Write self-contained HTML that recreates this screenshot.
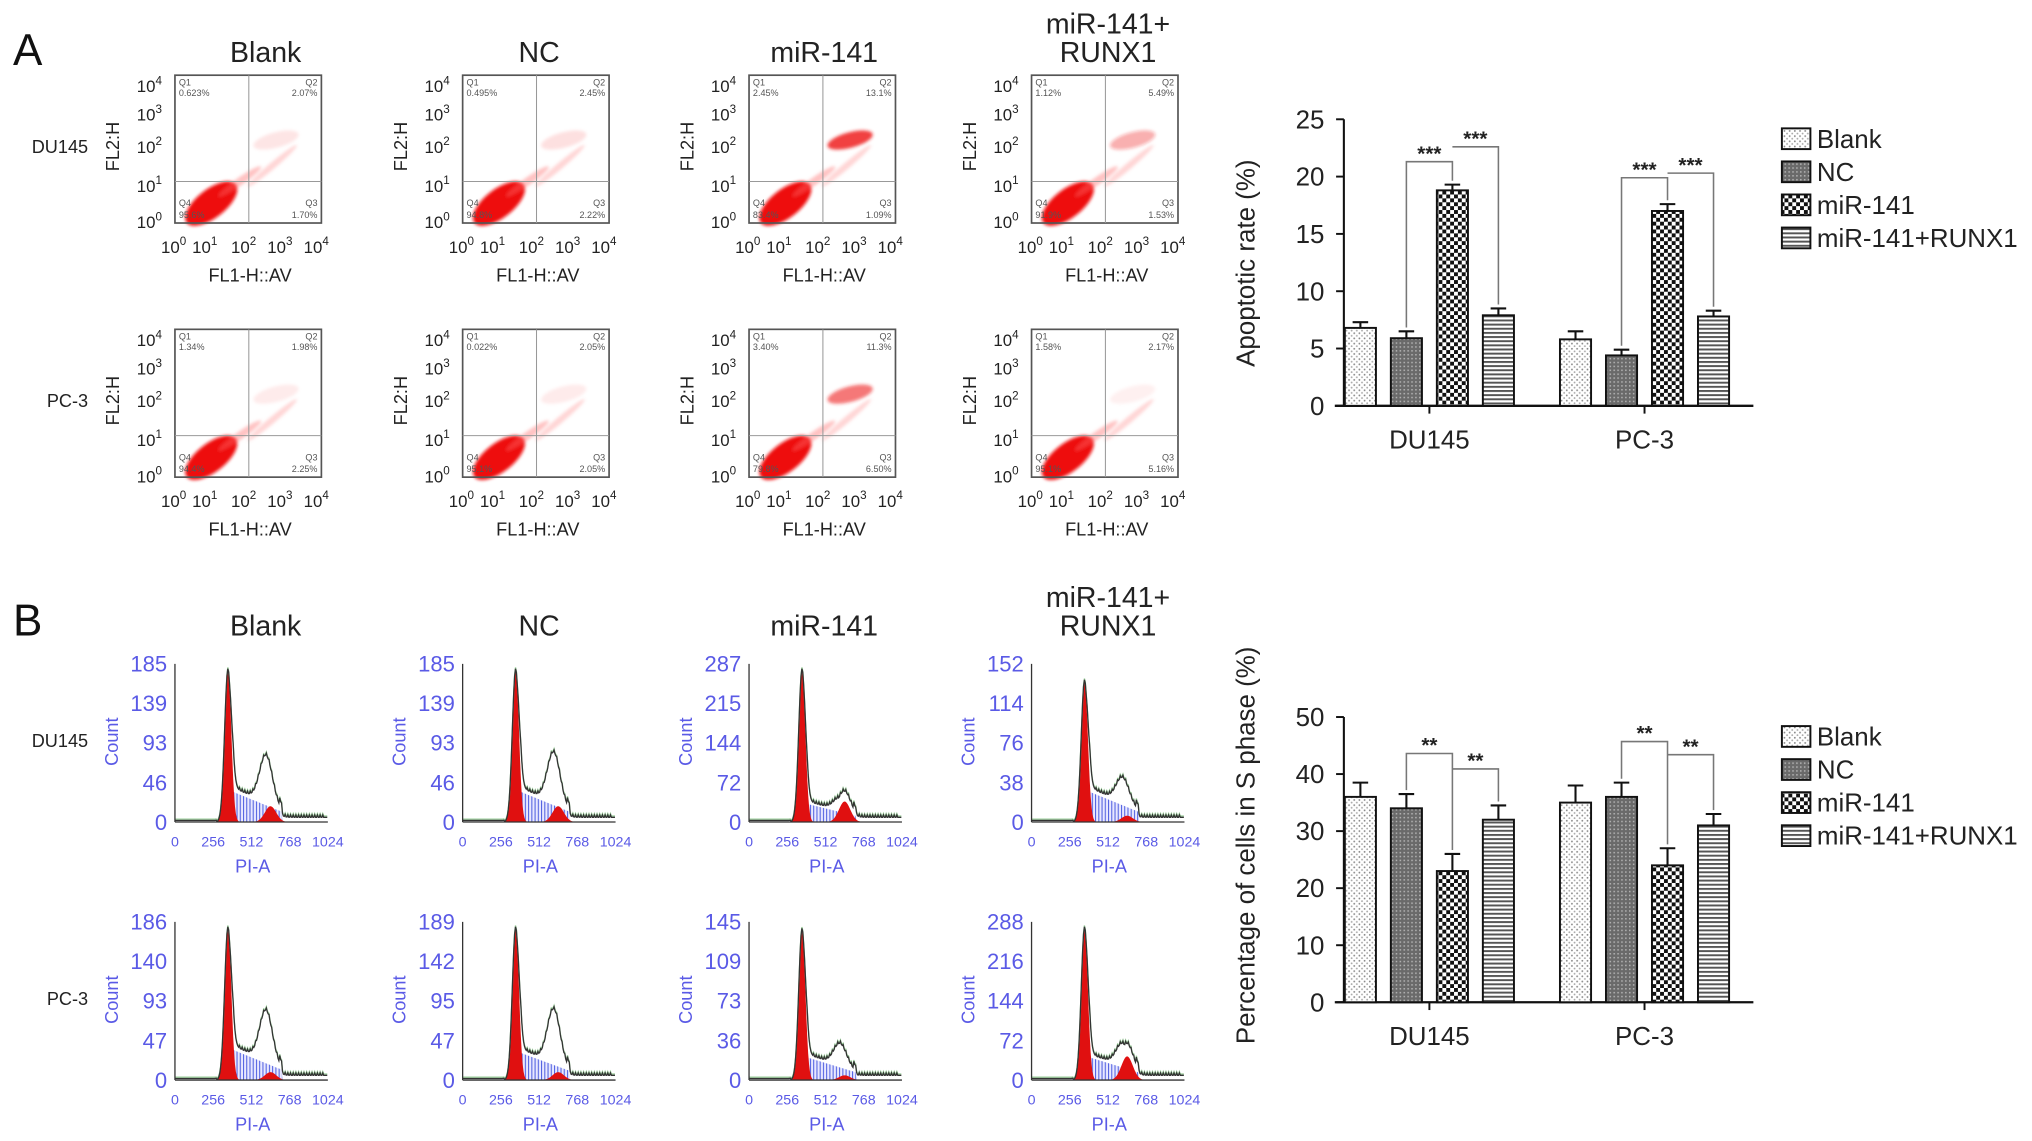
<!DOCTYPE html>
<html><head><meta charset="utf-8">
<style>
html,body{margin:0;padding:0;background:#fff;}
svg{display:block;font-family:"Liberation Sans",Arial,sans-serif;}
</style></head>
<body>
<svg id="fig" width="2032" height="1141" viewBox="0 0 1568 880" preserveAspectRatio="none" xmlns="http://www.w3.org/2000/svg">
<defs>
<pattern id="pBlank" width="4" height="4" patternUnits="userSpaceOnUse"><rect width="4" height="4" fill="#fff"/><circle cx="1" cy="1" r="0.7" fill="#888"/><circle cx="3" cy="3" r="0.7" fill="#aaa"/></pattern>
<pattern id="pNC" width="3" height="3" patternUnits="userSpaceOnUse"><rect width="3" height="3" fill="#6a6a6a"/><rect x="0" y="0" width="1.2" height="1.2" fill="#b0b0b0"/></pattern>
<pattern id="pMiR" width="6" height="6" patternUnits="userSpaceOnUse"><rect width="6" height="6" fill="#fff"/><rect width="3" height="3" fill="#111"/><rect x="3" y="3" width="3" height="3" fill="#111"/></pattern>
<pattern id="pRunx" width="4" height="3.2" patternUnits="userSpaceOnUse"><rect width="4" height="3.2" fill="#fff"/><rect y="0" width="4" height="1.5" fill="#555"/></pattern>
<pattern id="pHatch" width="2.5" height="4" patternUnits="userSpaceOnUse"><rect width="2.5" height="4" fill="#e8e8ff"/><rect width="0.8" height="4" fill="#5060e0"/></pattern>
<filter id="blur1"><feGaussianBlur stdDeviation="1.2"/></filter>
</defs>
</svg>
<script>
// ===== Bar chart data =====
const groups = ['DU145', 'PC-3'];
const seriesNames = ['Blank', 'NC', 'miR-141', 'miR-141+RUNX1'];
const apopBlank = [6.8, 5.8];
const apopNC = [5.9, 4.4];
const apopMiR = [18.8, 17.0];
const apopRunx = [7.9, 7.8];
const apopErrBlank = [0.5, 0.7];
const apopErrNC = [0.6, 0.5];
const apopErrMiR = [0.5, 0.6];
const apopErrRunx = [0.6, 0.5];
const apopTicks = [0, 5, 10, 15, 20, 25];
const apopSigLeft = [21.3, 19.9];
const apopSigRight = [22.6, 20.3];
const sBlank = [36, 35];
const sNC = [34, 36];
const sMiR = [23, 24];
const sRunx = [32, 31];
const sErrBlank = [2.5, 3];
const sErrNC = [2.5, 2.5];
const sErrMiR = [3, 3];
const sErrRunx = [2.5, 2];
const sTicks = [0, 10, 20, 30, 40, 50];
const sSigLeft = [43.6, 45.7];
const sSigRight = [40.9, 43.4];
const sigLabel = ['***', '**'];
// ===== Flow panels data =====
const colTitles = ['Blank', 'NC', 'miR-141', 'miR-141+'];
const rowLabels = ['DU145', 'PC-3'];
const q1 = [['0.623%','0.495%','2.45%','1.12%'],['1.34%','0.022%','3.40%','1.58%']];
const q2 = [['2.07%','2.45%','13.1%','5.49%'],['1.98%','2.05%','11.3%','2.17%']];
const q3 = [['1.70%','2.22%','1.09%','1.53%'],['2.25%','2.05%','6.50%','5.16%']];
const q4 = [['95.6%','94.8%','83.4%','91.9%'],['94.4%','95.1%','79.8%','95.1%']];
const upperPop = [[0.1,0.12,0.85,0.35],[0.08,0.08,0.6,0.06]];
const histTicks = [[[185,139,93,46,0],[185,139,93,46,0],[287,215,144,72,0],[152,114,76,38,0]],
                   [[186,140,93,47,0],[189,142,95,47,0],[145,109,73,36,0],[288,216,144,72,0]]];
const histG1 = [[0.97,0.97,0.97,0.9],[0.97,0.97,0.96,0.97]];
const histS = [[0.2,0.2,0.12,0.2],[0.2,0.18,0.15,0.15]];
const histG2 = [[0.1,0.1,0.13,0.04],[0.05,0.05,0.03,0.15]];
const histBump = [[0.3,0.32,0.08,0.16],[0.32,0.34,0.14,0.14]];

const NS = 'http://www.w3.org/2000/svg';
const svg = document.getElementById('fig');
function mk(tag, attrs, parent) {
  const e = document.createElementNS(NS, tag);
  for (const k in attrs) e.setAttribute(k, attrs[k]);
  (parent || svg).appendChild(e);
  return e;
}
function txt(str, x, y, size, anchor, fill, parent, weight) {
  const t = mk('text', {x: x, y: y, 'font-size': size, 'text-anchor': anchor || 'start', fill: fill || '#222'}, parent);
  if (weight) t.setAttribute('font-weight', weight);
  t.textContent = str;
  return t;
}

let t = txt('A', 10, 50, 34, 'start', '#111');


t = txt('B', 10, 490, 34, 'start', '#111');



const colX = [135, 357, 578, 796];
const colCenters = [205, 416, 636, 855];

function colTitle(i, yBase) {
  const g = mk('g', {});
  
  
  if (i === 3) {
    txt('miR-141+', colCenters[i], yBase - 22, 22, 'middle', '#222', g);
    txt('RUNX1', colCenters[i], yBase, 22, 'middle', '#222', g);
  } else {
    txt(colTitles[i], colCenters[i], yBase, 22, 'middle', '#222', g);
  }
}
for (let i = 0; i < 4; i++) { colTitle(i, 48); colTitle(i, 490); }

function supLabel(parent, base, exp, x, y, anchor) {
  const t = mk('text', {x: x, y: y, 'font-size': 13, 'text-anchor': anchor, fill: '#222'}, parent);
  const a = mk('tspan', {}, t); a.textContent = base;
  const b = mk('tspan', {dy: -6, 'font-size': 9}, t); b.textContent = exp;
  return t;
}
for (let r = 0; r < 2; r++) {
  const top = 58 + r * 196;
  const rl = txt(rowLabels[r], 68, top + 60, 14, 'end', '#222');
  
  
  for (let c = 0; c < 4; c++) {
    const x0 = colX[c];
    const g = mk('g', {});
    
    
    const bl = mk('g', {filter: 'url(#blur1)'}, g);
    mk('ellipse', {cx: x0 + 28, cy: top + 99, rx: 24, ry: 11, transform: `rotate(-38 ${x0+28} ${top+99})`, fill: '#ee1111'}, bl);
    mk('ellipse', {cx: x0 + 50, cy: top + 82, rx: 20, ry: 3, transform: `rotate(-35 ${x0+50} ${top+82})`, fill: '#ff6666', opacity: 0.4}, bl);
    const up = upperPop[r][c];
    mk('ellipse', {cx: x0 + 78, cy: top + 50, rx: 18, ry: 6, transform: `rotate(-15 ${x0+78} ${top+50})`, fill: '#ee2222', opacity: up}, bl);
    mk('ellipse', {cx: x0 + 75, cy: top + 70, rx: 25, ry: 2.5, transform: `rotate(-40 ${x0+75} ${top+70})`, fill: '#ff7777', opacity: 0.3}, bl);
    const box = mk('rect', {x: x0, y: top, width: 113, height: 114, fill: 'none', stroke: '#555', 'stroke-width': 1.3}, g);
    
    
    mk('line', {x1: x0 + 57, y1: top, x2: x0 + 57, y2: top + 114, stroke: '#999', 'stroke-width': 0.8}, g);
    mk('line', {x1: x0, y1: top + 82, x2: x0 + 113, y2: top + 82, stroke: '#999', 'stroke-width': 0.8}, g);
    txt('Q1', x0 + 3, top + 8, 7, 'start', '#555', g);
    txt(q1[r][c], x0 + 3, top + 16, 7, 'start', '#555', g);
    txt('Q2', x0 + 110, top + 8, 7, 'end', '#555', g);
    txt(q2[r][c], x0 + 110, top + 16, 7, 'end', '#555', g);
    txt('Q4', x0 + 3, top + 101, 7, 'start', '#555', g);
    txt(q4[r][c], x0 + 3, top + 110, 7, 'start', '#555', g);
    txt('Q3', x0 + 110, top + 101, 7, 'end', '#555', g);
    txt(q3[r][c], x0 + 110, top + 110, 7, 'end', '#555', g);
    const yt = [8, 30, 55, 85, 113];
    for (let k = 0; k < 5; k++) supLabel(g, '10', String(4 - k), x0 - 10, top + yt[k] + 5, 'end');
    const xt = [3, 27, 57, 85, 113];
    for (let k = 0; k < 5; k++) supLabel(g, '10', String(k), x0 + xt[k] - 4, top + 137, 'middle');
    const xl = txt('FL1-H::AV', x0 + 58, top + 159, 14, 'middle', '#222', g);
    
    
    const yl = txt('FL2:H', 0, 0, 14, 'middle', '#222', g);
    yl.setAttribute('transform', `translate(${x0 - 43},${top + 55}) rotate(-90)`);
    
    
  }
}

const blue = '#5a5ae6';
for (let r = 0; r < 2; r++) {
  const y0 = 634 + r * 199;
  const rl = txt(rowLabels[r], 68, y0 - 58, 14, 'end', '#222');
  
  
  for (let c = 0; c < 4; c++) {
    const x0 = colX[c];
    const W = 118, H = 122;
    const g = mk('g', {});
    
    
    const X = ch => x0 + ch / 1024 * W;
    const Y = v => y0 - v * H;
    const G1 = histG1[r][c], S = histS[r][c], G2 = histG2[r][c], B = histBump[r][c];
    const g1f = ch => G1 * Math.exp(-0.5 * Math.pow((ch - 355) / 22, 2));
    const sf = ch => (ch > 365 && ch < 720) ? S * (1 - (ch - 365) / 520) * Math.min(1, (ch - 365) / 25) : 0;
    const g2f = ch => G2 * Math.exp(-0.5 * Math.pow((ch - 640) / 38, 2));
    const bf = ch => B * Math.exp(-0.5 * Math.pow((ch - 610) / 42, 2));
    let pS = `M${X(365)},${y0}`, pG1 = `M${X(280)},${y0}`, pG2 = `M${X(520)},${y0}`, pO = '';
    for (let ch = 0; ch <= 1024; ch += 6) {
      if (ch >= 365 && ch <= 720) pS += ` L${X(ch)},${Y(sf(ch))}`;
      if (ch >= 280 && ch <= 430) pG1 += ` L${X(ch)},${Y(g1f(ch))}`;
      if (ch >= 520 && ch <= 760) pG2 += ` L${X(ch)},${Y(g2f(ch))}`;
      const tail = ch > 700 ? 0.03 : (ch < 280 ? 0.01 : 0);
      const jig = ((ch / 6) % 3 === 0 && ch > 420 && ch < 1000) ? 0.015 : 0;
      const v = g1f(ch) + sf(ch) * 1.15 + Math.max(g2f(ch), bf(ch)) + tail + jig;
      pO += (pO ? ' L' : 'M') + `${X(ch)},${Y(v)}`;
    }
    mk('path', {d: pS + ` L${X(720)},${y0} Z`, fill: 'url(#pHatch)'}, g);
    mk('path', {d: pG2 + ` L${X(760)},${y0} Z`, fill: '#e01010'}, g);
    mk('path', {d: pG1 + ` L${X(430)},${y0} Z`, fill: '#e01010'}, g);
    mk('path', {d: pO, fill: 'none', stroke: '#9c9', 'stroke-width': 1, transform: 'translate(0,-1)'}, g);
    mk('path', {d: pO, fill: 'none', stroke: '#333', 'stroke-width': 1}, g);
    mk('line', {x1: x0, y1: y0 - H, x2: x0, y2: y0, stroke: '#333', 'stroke-width': 1}, g);
    mk('line', {x1: x0, y1: y0, x2: x0 + W, y2: y0, stroke: '#333', 'stroke-width': 1}, g);
    const ticks = histTicks[r][c];
    for (let k = 0; k < 5; k++) txt(String(ticks[k]), x0 - 6, y0 - H + k * (H / 4) + 6, 17, 'end', blue, g);
    const xt = [0, 256, 512, 768, 1024];
    for (let k = 0; k < 5; k++) txt(String(xt[k]), X(xt[k]), y0 + 19, 11, 'middle', blue, g);
    const xl = txt('PI-A', x0 + 60, y0 + 39, 14, 'middle', blue, g);
    
    
    const yl = txt('Count', 0, 0, 14, 'middle', blue, g);
    yl.setAttribute('transform', `translate(${x0 - 44},${y0 - 62}) rotate(-90)`);
    
    
  }
}

const fills = ['url(#pBlank)', 'url(#pNC)', 'url(#pMiR)', 'url(#pRunx)'];
function barChart(cfg) {
  const {vals, errs, ticks, maxV, zeroY, topY, title, sigL, sigR, label, legendY} = cfg;
  const yS = v => zeroY - v / maxV * (zeroY - topY);
  const gx = [1103, 1269];
  const g = mk('g', {});
  
  
  const ya = mk('line', {x1: 1037, y1: topY, x2: 1037, y2: zeroY, stroke: '#111', 'stroke-width': 1.6}, g);
  
  
  for (const tv of ticks) {
    mk('line', {x1: 1031, y1: yS(tv), x2: 1037, y2: yS(tv), stroke: '#111', 'stroke-width': 1.5}, g);
    const tl = txt(String(tv), 1022, yS(tv) + 7, 20, 'end', '#222', g);
    
    
  }
  const xa = mk('line', {x1: 1030, y1: zeroY, x2: 1353, y2: zeroY, stroke: '#111', 'stroke-width': 1.8}, g);
  
  
  const yt = txt(title, 0, 0, 20, 'middle', '#222', g);
  yt.setAttribute('transform', `translate(968,${cfg.titleY}) rotate(-90)`);
  
  
  for (let gi = 0; gi < groups.length; gi++) {
    mk('line', {x1: gx[gi], y1: zeroY, x2: gx[gi], y2: zeroY + 6, stroke: '#111', 'stroke-width': 1.5}, g);
    const cl = txt(groups[gi], gx[gi], zeroY + 33, 20, 'middle', '#222', g);
    
    
    const cx = [];
    for (let s = 0; s < 4; s++) {
      const bx = gx[gi] + (s - 1.5) * 35.5;
      cx.push(bx);
      const v = vals[s][gi], e = errs[s][gi];
      const bar = mk('rect', {x: bx - 12, y: yS(v), width: 24, height: zeroY - yS(v), fill: fills[s], stroke: '#111', 'stroke-width': 1.5}, g);
      
      
      const eb = mk('path', {d: `M${bx},${yS(v)} L${bx},${yS(v + e)} M${bx - 6},${yS(v + e)} L${bx + 6},${yS(v + e)}`, stroke: '#111', 'stroke-width': 1.6, fill: 'none'}, g);
      
      
    }
    const topOf = s => yS(vals[s][gi] + errs[s][gi]) - 3;
    const lL = yS(sigL[gi]), lR = yS(sigR[gi]);
    const br1 = mk('path', {d: `M${cx[1]},${topOf(1)} L${cx[1]},${lL} L${cx[2]},${lL} L${cx[2]},${topOf(2)}`, stroke: '#777', 'stroke-width': 1.2, fill: 'none'}, g);
    
    
    const br2 = mk('path', {d: `M${cx[2]},${lR} L${cx[3]},${lR} L${cx[3]},${topOf(3)}`, stroke: '#777', 'stroke-width': 1.2, fill: 'none'}, g);
    
    
    const s1 = txt(label, (cx[1] + cx[2]) / 2, lL - 1, 16, 'middle', '#222', g, 'bold');
    
    
    const s2 = txt(label, (cx[2] + cx[3]) / 2, lR - 1, 16, 'middle', '#222', g, 'bold');
    
    
  }
  for (let s = 0; s < 4; s++) {
    const ly = legendY + s * 25.5;
    const le = mk('g', {}, g);
    
    
    mk('rect', {x: 1375, y: ly - 8, width: 22, height: 16, fill: fills[s], stroke: '#111', 'stroke-width': 1.5}, le);
    txt(seriesNames[s], 1402, ly + 7, 20, 'start', '#222', le);
  }
}
barChart({name: 'apoptosis-bar-chart', vals: [apopBlank, apopNC, apopMiR, apopRunx], errs: [apopErrBlank, apopErrNC, apopErrMiR, apopErrRunx],
  ticks: apopTicks, maxV: 25, zeroY: 313, topY: 92, title: 'Apoptotic rate (%)', titleY: 203, sigL: apopSigLeft, sigR: apopSigRight, label: sigLabel[0], legendY: 107});
barChart({name: 's-phase-bar-chart', vals: [sBlank, sNC, sMiR, sRunx], errs: [sErrBlank, sErrNC, sErrMiR, sErrRunx],
  ticks: sTicks, maxV: 50, zeroY: 773, topY: 553, title: 'Percentage of cells in S phase (%)', titleY: 652, sigL: sSigLeft, sigR: sSigRight, label: sigLabel[1], legendY: 568});
</script>
</body></html>
